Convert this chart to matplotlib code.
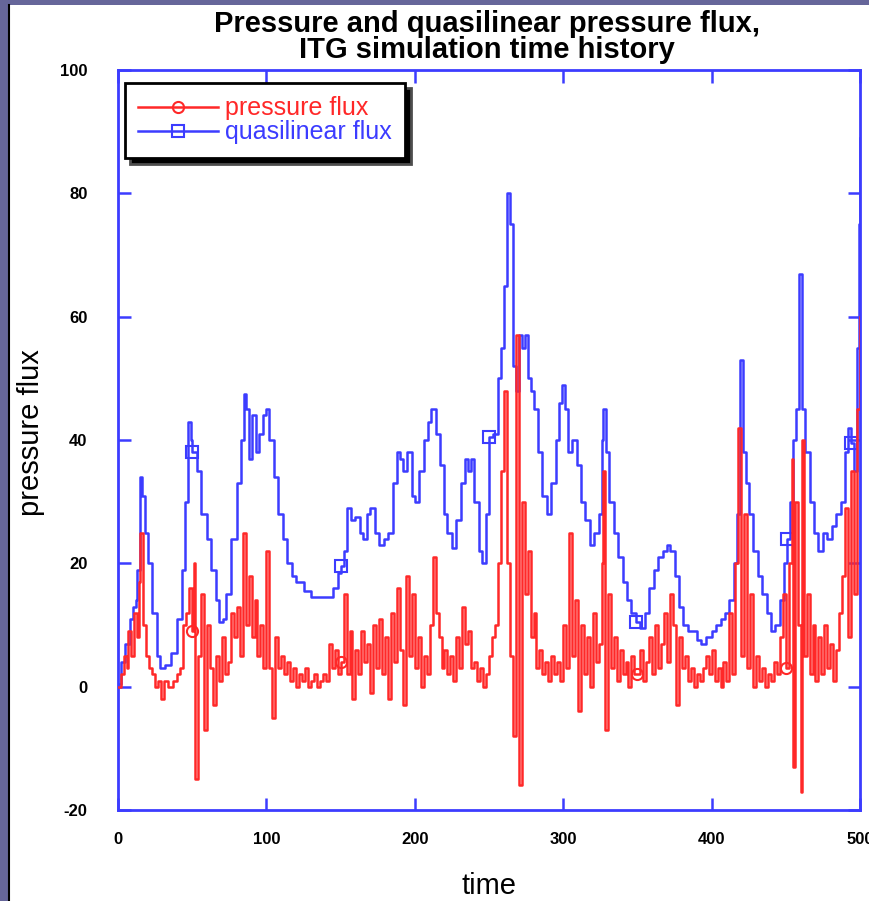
import matplotlib
matplotlib.use("Agg")
import matplotlib.pyplot as plt
from matplotlib.patches import Rectangle
from matplotlib.lines import Line2D

plt.rcParams["axes.unicode_minus"] = False

# quasilinear flux (blue)
blue_t = [0, 2, 5, 8, 10, 12, 13, 15, 16, 18,
          20, 23, 26, 28, 32, 36, 40, 43, 45, 47,
          49, 50, 53, 56, 60, 63, 66, 68, 71, 73,
          76, 80, 83, 85, 86, 88, 90, 93, 95, 98,
          100, 102, 105, 108, 111, 114, 117, 120, 125, 130,
          135, 142, 145, 148, 150, 152, 154, 157, 160, 163,
          165, 168, 170, 173, 176, 179, 182, 185, 188, 190,
          192, 195, 198, 200, 203, 206, 209, 211, 214, 217,
          220, 222, 225, 228, 231, 234, 236, 238, 240, 243,
          245, 248, 250, 253, 256, 258, 260, 262, 264, 266,
          268, 270, 272, 274, 276, 278, 280, 283, 286, 289,
          292, 295, 297, 299, 301, 303, 306, 309, 312, 315,
          318, 321, 324, 326, 327, 329, 331, 334, 337, 340,
          343, 346, 349, 352, 355, 358, 361, 364, 367, 370,
          372, 375, 378, 381, 384, 387, 390, 393, 396, 400,
          403, 406, 409, 412, 415, 417, 419, 421, 423, 425,
          428, 431, 434, 437, 440, 443, 446, 449, 451, 453,
          455, 457, 459, 461, 463, 466, 469, 472, 475, 478,
          481, 484, 487, 490, 492, 494, 496, 498, 499, 500]
blue_v = [0.5, 4, 7, 11, 13, 14, 19, 34, 31, 25,
          20, 12, 5, 3, 3.5, 5.5, 11, 19, 30, 43,
          40, 38, 35, 28, 24, 19, 14, 10.5, 11, 15,
          24, 33, 40, 47.5, 45, 37, 44, 38, 41, 44,
          45, 40, 34, 28, 24, 20, 18, 17, 15.5, 14.5,
          14.5, 14.5, 16, 18.5, 19.5, 22, 29, 27, 27.5, 25,
          24, 28, 29, 25, 23, 24, 25, 33, 38, 37,
          35, 38, 31, 30, 35, 40, 43, 45, 41, 36,
          28, 25, 22.5, 27, 33, 37, 35, 37, 30, 22,
          20, 28, 40.5, 41, 50, 55, 65, 80, 75, 52,
          48, 57, 55, 57, 50, 48, 45, 38, 31, 28,
          33, 40, 46, 49, 45, 38, 40, 36, 30, 27,
          23, 25, 28, 40, 45, 38, 30, 25, 21, 17,
          14, 12, 10.5, 9.5, 12, 16, 19, 21, 22, 23,
          22, 18, 13, 10, 9, 9, 7.5, 7, 8, 9,
          10, 11, 12, 14, 20, 28, 53, 38, 33, 28,
          22, 18, 15, 12, 9, 10, 14, 20, 24, 30,
          40, 45, 67, 45, 38, 30, 25, 22, 25, 24,
          26, 28, 30, 38, 42, 39.5, 35, 55, 75, 89]

# pressure flux (red)
red_t = [0, 2, 4, 6, 7, 9, 11, 13, 14, 15,
         17, 19, 21, 23, 25, 27, 29, 31, 34, 37,
         40, 42, 44, 46, 48, 50, 51, 52, 54, 56,
         58, 60, 62, 64, 66, 68, 70, 72, 74, 76,
         78, 80, 82, 84, 86, 88, 90, 92, 94, 96,
         98, 100, 102, 104, 106, 108, 110, 112, 114, 116,
         118, 120, 122, 124, 126, 128, 130, 132, 134, 136,
         138, 140, 142, 144, 146, 148, 150, 152, 154, 156,
         158, 160, 162, 164, 166, 168, 170, 172, 174, 176,
         178, 180, 182, 184, 186, 188, 190, 192, 194, 196,
         198, 200, 202, 204, 206, 208, 210, 212, 214, 216,
         218, 220, 222, 224, 226, 228, 230, 232, 234, 236,
         238, 240, 242, 244, 246, 248, 250, 252, 254, 256,
         258, 260, 262, 264, 266, 268, 270, 272, 274, 276,
         278, 280, 282, 284, 286, 288, 290, 292, 294, 296,
         298, 300, 302, 304, 306, 308, 310, 312, 314, 316,
         318, 320, 322, 324, 326, 327, 328, 330, 332, 334,
         336, 338, 340, 342, 344, 346, 348, 350, 352, 354,
         356, 358, 360, 362, 364, 366, 368, 370, 372, 374,
         376, 378, 380, 382, 384, 386, 388, 390, 392, 394,
         396, 398, 400, 402, 404, 406, 408, 410, 412, 414,
         416, 418, 420, 422, 424, 426, 428, 430, 432, 434,
         436, 438, 440, 442, 444, 446, 448, 450, 452, 454,
         455, 456, 458, 460, 461, 462, 464, 466, 468, 470,
         472, 474, 476, 478, 480, 482, 484, 486, 488, 490,
         492, 494, 496, 498, 500]
red_v = [0, 2, 5, 3, 9, 5, 12, 8, 17, 25,
         10, 5, 3, 2, 0, 1, -2, 1, 0, 1,
         2, 3, 10, 12, 16, 9, 20, -15, 5, 15,
         -7, 10, 3, -3, 5, 1, 8, 2, 4, 12,
         8, 13, 5, 25, 10, 18, 8, 14, 5, 10,
         3, 22, 3, -5, 8, 3, 5, 2, 4, 1,
         3, 0, 2, 1, 3, 0, 1, 2, 0, 1,
         2, 1, 7, 3, 6, 2, 4, 15, 2, 9,
         -2, 6, 2, 9, 4, 7, -1, 10, 3, 11,
         2, 8, -2, 12, 4, 16, 6, -3, 18, 5,
         15, 3, 8, 0, 5, 2, 10, 21, 12, 8,
         3, 6, 2, 5, 1, 8, 3, 13, 7, 9,
         3, 4, 1, 3, 0, 2, 5, 8, 10, 20,
         35, 48, 20, 5, -8, 57, -16, 30, 15, 22,
         8, 12, 3, 6, 2, 4, 1, 5, 2, 4,
         1, 10, 3, 25, 5, 14, -4, 10, 2, 8,
         0, 12, 4, 7, 20, 35, -7, 15, 3, 8,
         1, 6, 2, 4, 0, 5, 2, 2, 6, 1,
         4, 8, 2, 10, 3, 7, 12, 4, 15, 10,
         -3, 8, 3, 5, 1, 3, 0, 2, 1, 3,
         5, 2, 6, 1, 3, 0, 4, 1, 12, 2,
         20, 42, 5, 28, 3, 15, 0, 5, 1, 3,
         0, 2, 1, 4, 2, 8, 15, 3, 20, 37,
         -13, 30, 10, -17, 40, 5, 15, 2, 10, 1,
         8, 2, 10, 3, 7, 1, 6, 12, 18, 29,
         8, 35, 15, 45, 60]

red_marks = [50, 150, 350, 450]
blue_marks = [50, 150, 250, 349, 451, 494]

x_ticks = [0, 100, 200, 300, 400, 500]
y_ticks = [-20, 0, 20, 40, 60, 80, 100]

RED = "#ff2828"
BLUE = "#3c3cff"
NARROW = ["Liberation Sans Narrow", "Liberation Sans", "DejaVu Sans"]
SANS = ["Liberation Sans", "DejaVu Sans"]

fig = plt.figure(figsize=(8.69, 9.01), dpi=100, facecolor="#66669a")
# white slide panel behind everything
fig.patches.append(Rectangle((9 / 869, 0), 1, 1 - 5 / 901, transform=fig.transFigure,
                             facecolor="white", edgecolor="none", zorder=-10))
fig.lines.append(Line2D([9 / 869, 9 / 869], [0, 1 - 5 / 901], transform=fig.transFigure,
                        color="black", lw=1.5, zorder=-9))

ax = fig.add_axes([118 / 869, 91 / 901, 742 / 869, 740 / 901])
ax.set_facecolor("white")

ax.plot(red_t, red_v, color=RED, lw=1.8, drawstyle="steps-post",
        marker="o", markersize=8, markerfacecolor="none", markeredgecolor=RED,
        markeredgewidth=1.5, markevery=[red_t.index(m) for m in red_marks],
        label="pressure flux", zorder=3)
ax.plot(blue_t, blue_v, color=BLUE, lw=1.8, drawstyle="steps-post",
        marker="s", markersize=9, markerfacecolor="none", markeredgecolor=BLUE,
        markeredgewidth=1.5, markevery=[blue_t.index(m) for m in blue_marks],
        label="quasilinear flux", zorder=2)

ax.set_xlim(0, 500)
ax.set_ylim(-20, 100)
ax.set_xticks(x_ticks)
ax.set_yticks(y_ticks)
ax.tick_params(direction="in", length=9, width=1.8, color=BLUE,
               top=True, right=True, labelsize=12)
ax.tick_params(axis="x", pad=16)
ax.tick_params(axis="y", pad=22)
for lab in ax.get_xticklabels() + ax.get_yticklabels():
    lab.set_family(NARROW)
    lab.set_fontweight("bold")
for sp in ax.spines.values():
    sp.set_color(BLUE)
    sp.set_linewidth(2)

fig.text(487 / 869, 1 - 37 / 901,
         "Pressure and quasilinear pressure flux,\nITG simulation time history",
         ha="center", va="center", family=NARROW, fontweight="bold",
         fontsize=21, linespacing=0.88)
ax.set_xlabel("time", family=SANS, fontsize=21, labelpad=18)
ax.set_ylabel("pressure flux", family=SANS, fontsize=21)
ax.yaxis.set_label_coords(-0.099, 0.51)

leg = ax.legend(loc="upper left", bbox_to_anchor=(0.009, 0.983), borderaxespad=0,
                fancybox=False, edgecolor="black", framealpha=1,
                shadow={"ox": 4, "oy": -4, "facecolor": "black", "alpha": 1},
                handlelength=3.2, handletextpad=0.25, labelspacing=0.0,
                borderpad=0.55, prop={"family": NARROW, "size": 18},
                labelcolor="linecolor")
leg.get_frame().set_linewidth(2)
for h in leg.legend_handles:
    h.set_markevery([1])

fig.savefig("out.png", dpi=100, facecolor=fig.get_facecolor())
